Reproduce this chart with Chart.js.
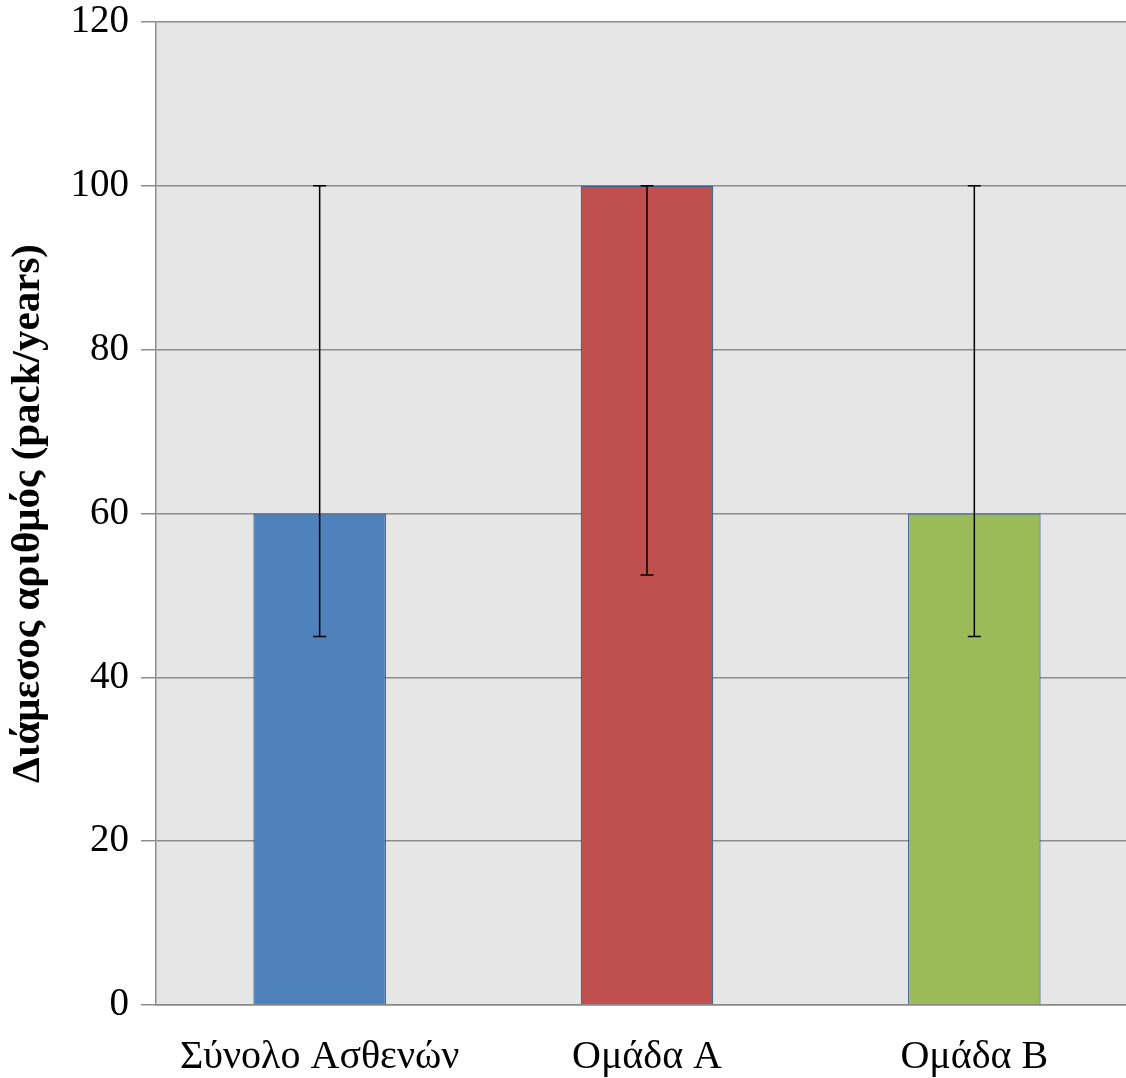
<!DOCTYPE html>
<html>
<head>
<meta charset="utf-8">
<script src="https://cdn.jsdelivr.net/npm/chart.js@4"></script>
<style>
  html, body { margin: 0; padding: 0; background: #ffffff; overflow: hidden; }
  #wrap { width: 1126px; height: 1078px; overflow: hidden; }
</style>
</head>
<body>
<div id="wrap"><canvas id="chart1" width="1138" height="1078"></canvas></div>
<script>
const categories = ['Σύνολο Ασθενών', 'Ομάδα Α', 'Ομάδα Β'];
const medians = [60, 100, 60];
const errLow = [45, 52.5, 45];
const errHigh = [100, 100, 100];
const barColors = ['#4f81bd', '#c0504d', '#9bbb59'];
const yTicks = [0, 20, 40, 60, 80, 100, 120];

// γκρι φόντο στην περιοχή σχεδίασης
const plotBackground = {
    id: 'plotBackground',
    beforeDraw(chart) {
        const { ctx, chartArea } = chart;
        ctx.save();
        ctx.fillStyle = '#e6e6e6';
        ctx.fillRect(chartArea.left, chartArea.top, chartArea.right - chartArea.left, chartArea.bottom - chartArea.top);
        ctx.restore();
    }
};

// μπάρες σφάλματος (εύρος)
const errorBars = {
    id: 'errorBars',
    afterDatasetsDraw(chart) {
        const { ctx, scales } = chart;
        const meta = chart.getDatasetMeta(0);
        ctx.save();
        ctx.strokeStyle = '#000000';
        ctx.lineWidth = 1.5;
        meta.data.forEach((bar, i) => {
            const x = bar.x;
            const yLo = scales.y.getPixelForValue(errLow[i]);
            const yHi = scales.y.getPixelForValue(errHigh[i]);
            ctx.beginPath();
            ctx.moveTo(x, yLo);
            ctx.lineTo(x, yHi);
            ctx.moveTo(x - 6.5, yLo);
            ctx.lineTo(x + 6.5, yLo);
            ctx.moveTo(x - 6.5, yHi);
            ctx.lineTo(x + 6.5, yHi);
            ctx.stroke();
        });
        ctx.restore();
    }
};

const ctx = document.getElementById('chart1').getContext('2d');
new Chart(ctx, {
    type: 'bar',
    data: {
        labels: categories,
        datasets: [{
            data: medians,
            backgroundColor: barColors,
            borderColor: '#3a5f8c',
            borderWidth: 1.2,
            categoryPercentage: 1,
            barPercentage: 0.405
        }]
    },
    options: {
        responsive: false,
        animation: false,
        layout: { padding: { top: 22, right: 0, left: 0, bottom: 0 } },
        plugins: {
            legend: { display: false },
            tooltip: { enabled: false }
        },
        scales: {
            x: {
                grid: { display: false },
                border: { display: true, color: '#888888', width: 1.5 },
                ticks: {
                    color: '#000000',
                    padding: 20,
                    font: { family: '"Liberation Serif", "Times New Roman", serif', size: 40 }
                },
                afterFit(scale) { scale.height = 73; }
            },
            y: {
                min: 0,
                max: 120,
                afterBuildTicks(scale) { scale.ticks = yTicks.map(v => ({ value: v })); },
                grid: {
                    color: '#8c8c8c',
                    lineWidth: 1.5,
                    tickLength: 15
                },
                border: { display: true, color: '#8c8c8c', width: 1.5 },
                ticks: {
                    color: '#000000',
                    padding: 12,
                    font: { family: '"Liberation Serif", "Times New Roman", serif', size: 39 }
                },
                title: {
                    display: true,
                    text: 'Διάμεσος αριθμός (pack/years)',
                    color: '#000000',
                    padding: { top: 4, bottom: 0 },
                    font: { family: '"Liberation Serif", "Times New Roman", serif', size: 41, weight: 'bold' }
                },
                afterFit(scale) {
                    scale.width = 156;
                    scale.paddingTop = 0;
                    scale.paddingBottom = 0;
                }
            }
        }
    },
    plugins: [plotBackground, errorBars]
});
</script>
</body>
</html>
